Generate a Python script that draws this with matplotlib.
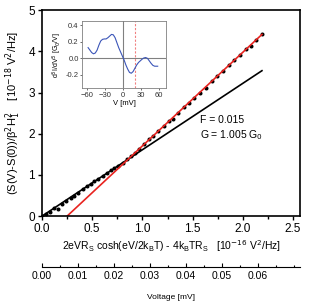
import matplotlib
matplotlib.use("Agg")
import matplotlib.pyplot as plt
from matplotlib.ticker import MultipleLocator

plt.rcParams["font.family"] = ["Liberation Sans", "DejaVu Sans"]

# noise data (10^-16 / 10^-18 V^2/Hz)
x_data = [0.00, 0.04, 0.08, 0.12, 0.16, 0.20, 0.24, 0.29, 0.32, 0.36, 0.41, 0.45,
          0.49, 0.52, 0.56, 0.61, 0.65, 0.69, 0.72, 0.76, 0.81, 0.85, 0.89, 0.93,
          0.97, 1.02, 1.07, 1.11, 1.16, 1.21, 1.26, 1.30, 1.35, 1.41, 1.46, 1.51,
          1.57, 1.63, 1.69, 1.74, 1.80, 1.86, 1.91, 1.97, 2.03, 2.08, 2.13, 2.19]
y_data = [0.00, 0.04, 0.10, 0.19, 0.17, 0.30, 0.37, 0.44, 0.50, 0.57, 0.65, 0.72,
          0.78, 0.85, 0.90, 0.98, 1.05, 1.11, 1.16, 1.22, 1.30, 1.38, 1.45, 1.54,
          1.64, 1.75, 1.86, 1.95, 2.07, 2.18, 2.30, 2.36, 2.50, 2.66, 2.75, 2.86,
          3.00, 3.11, 3.27, 3.39, 3.52, 3.66, 3.80, 3.91, 4.05, 4.13, 4.27, 4.41]

# fitted lines
red_x = [0.25, 2.19]
red_y = [0.0, 4.41]
black_x = [0.0, 2.19]
black_y = [0.0, 3.53]

# voltage axis ticks
volt_ticks = [0.00, 0.01, 0.02, 0.03, 0.04, 0.05, 0.06]

# inset: d3I/dV3
v_inset = [-58, -55, -52, -49, -46, -43, -40, -37, -34, -31, -28, -25, -22, -19, -16,
           -13, -10, -7, -4, -1, 2, 5, 8, 11, 14, 17, 20, 23, 26, 29, 32, 35, 38,
           41, 44, 47, 50, 53, 56, 58]
d3i = [0.13, 0.10, 0.07, 0.055, 0.065, 0.10, 0.16, 0.21, 0.23, 0.235, 0.235, 0.25,
       0.27, 0.29, 0.285, 0.25, 0.19, 0.13, 0.08, 0.03, -0.02, -0.08, -0.13, -0.17,
       -0.18, -0.16, -0.12, -0.08, -0.05, -0.03, -0.01, 0.005, 0.01, 0.0, -0.03,
       -0.06, -0.085, -0.095, -0.095, -0.095]

fig = plt.figure(figsize=(3.11, 3.07), dpi=100)

ax = fig.add_axes([0.135, 0.296, 0.830, 0.671])
ax.plot(black_x, black_y, color="black", lw=1.2)
ax.plot(x_data, y_data, "o", color="black", ms=1.9)
ax.plot(red_x, red_y, color="#e8231f", lw=1.2)
ax.set_xlim(0, 2.57)
ax.set_ylim(0, 5)
ax.xaxis.set_major_locator(MultipleLocator(0.5))
ax.xaxis.set_minor_locator(MultipleLocator(0.25))
ax.yaxis.set_major_locator(MultipleLocator(1))
ax.tick_params(which="both", direction="out", labelsize=8.5, width=1, pad=2)
ax.tick_params(which="major", length=3)
ax.tick_params(which="minor", length=2)
for s in ax.spines.values():
    s.set_linewidth(1.2)
ax.set_xlabel("2eVR$_\\mathregular{S}$ cosh(eV/2k$_\\mathregular{B}$T) - 4k$_\\mathregular{B}$TR$_\\mathregular{S}$   [10$^{-16}$ V$^2$/Hz]",
              fontsize=7.5, labelpad=2)
ax.set_ylabel("(S(V)-S(0))/β$^2$H$_1^2$    [10$^{-18}$ V$^2$/Hz]", fontsize=8, labelpad=4)
ax.text(1.57, 2.27, "F = 0.015", fontsize=7.5)
ax.text(1.57, 1.88, "G = 1.005 G$_0$", fontsize=7.5)

# voltage axis below
ax2 = fig.add_axes([0.135, 0.130, 0.830, 0.0001])
ax2.set_xlim(0, 0.0717)
for name in ["top", "left", "right"]:
    ax2.spines[name].set_visible(False)
ax2.spines["bottom"].set_linewidth(0.8)
ax2.set_yticks([])
ax2.set_xticks(volt_ticks)
ax2.xaxis.set_minor_locator(MultipleLocator(0.005))
ax2.xaxis.set_major_formatter(plt.FormatStrFormatter("%.2f"))
ax2.tick_params(which="both", direction="in", labelsize=7.5, width=0.8, pad=3)
ax2.tick_params(which="major", length=3)
ax2.tick_params(which="minor", length=1.5)
ax2.set_xlabel("Voltage [mV]", fontsize=6, labelpad=9)

# inset
ins = fig.add_axes([0.264, 0.713, 0.270, 0.218])
ins.axhline(0, color="#808080", lw=0.8)
ins.axvline(0, color="#808080", lw=0.8)
ins.axvline(20, color="#f08080", lw=0.8, ls=(0, (2, 1.5)))
ins.plot(v_inset, d3i, color="#3b55b8", lw=0.8)
ins.set_xlim(-68, 72)
ins.set_ylim(-0.36, 0.45)
ins.set_xticks([-60, -30, 0, 30, 60])
ins.set_yticks([-0.2, 0.0, 0.2, 0.4])
ins.yaxis.set_major_formatter(plt.FormatStrFormatter("%.1f"))
ins.tick_params(direction="out", labelsize=5.5, length=1.5, width=0.5, pad=1, colors="#333333")
for s in ins.spines.values():
    s.set_linewidth(0.6)
    s.set_color("#808080")
ins.set_xlabel("V [mV]", fontsize=5.5, labelpad=1)
ins.set_ylabel("d$^3$I/dV$^3$ [G$_0$/V]", fontsize=5, labelpad=1)

fig.savefig("out.png", dpi=100)
